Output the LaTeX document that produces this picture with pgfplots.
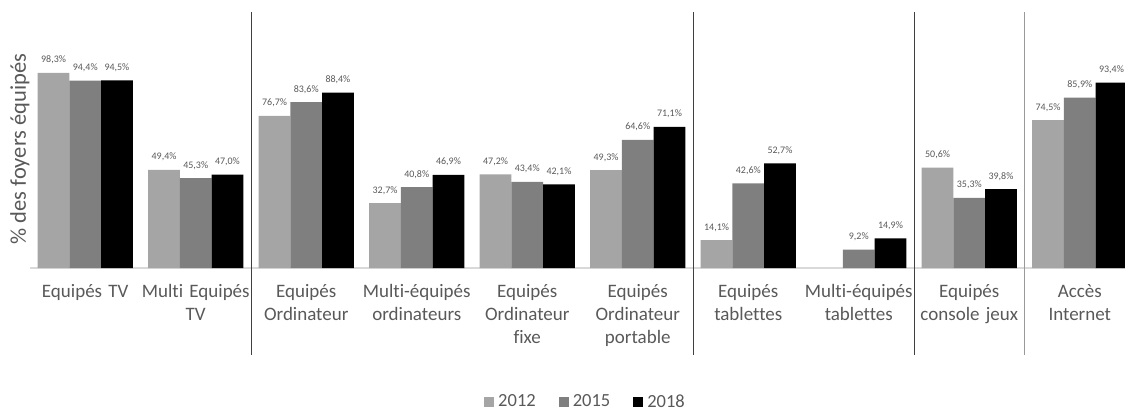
\documentclass[border=0pt]{standalone}
\usepackage{fontspec}
\setmainfont{Carlito}[Ligatures=CommonOff]
\usepackage{pgfplots}
\pgfplotsset{compat=1.18}

\definecolor{c2012}{HTML}{A5A5A5}
\definecolor{c2015}{HTML}{7F7F7F}
\definecolor{c2018}{HTML}{000000}
\definecolor{txt}{HTML}{595959}
\definecolor{baseline}{HTML}{D9D9D9}

\begin{document}
\begin{tikzpicture}[x=1pt,y=1pt]
  % page = 1125 x 410, axis origin at pixel (30,268)
  \useasboundingbox (-30,-142) rectangle (1095,268);
  \clip (-30,-142) rectangle (1095,268);
  \begin{axis}[
      at={(0,0)}, anchor=south west,
      scale only axis,
      width=1105pt, height=256pt,
      ybar=0pt, bar width=31.7pt,
      xmin=-0.5, xmax=9.5,
      ymin=0, ymax=129,
      axis x line*=bottom, axis y line=none,
      x axis line style={draw=baseline, line width=1.6pt},
      xtick={0,...,9}, major tick length=0pt,
      xticklabels={
        {Equipés TV},
        {Multi Equipés\\TV},
        {Equipés\\Ordinateur},
        {Multi-équipés\\ordinateurs},
        {Equipés\\Ordinateur\\fixe},
        {Equipés\\Ordinateur\\portable},
        {Equipés\\tablettes},
        {Multi-équipés\\tablettes},
        {Equipés\\console jeux},
        {Accès\\Internet}},
      xticklabel style={font=\fontsize{19}{23}\selectfont, text=txt,
        align=center, text width=110pt, inner sep=0pt, anchor=north, yshift=-16pt},
      ytick=\empty,
      clip=false,
      /pgf/number format/assume math mode=true,
      nodes near coords={\pgfmathprintnumber[fixed,fixed zerofill,precision=1,use comma]{\pgfplotspointmeta}\%},
      every node near coord/.append style={font=\fontsize{10}{12}\selectfont, text=txt,
        inner sep=0pt, anchor=south, yshift=8.5pt},
      legend columns=3,
      legend style={at={(axis description cs:0.5036,-0.5215)}, anchor=center,
        draw=none, fill=none, font=\fontsize{18.5}{22}\selectfont, text=txt,
        /tikz/every even column/.append style={column sep=19pt},
        nodes={inner sep=4pt}},
      legend image code/.code={\fill[#1] (0pt,-5pt) rectangle (10pt,5pt);},
    ]

    \addplot[fill=c2012, draw=none] coordinates {
      (0,98.3) (1,49.4) (2,76.7) (3,32.7) (4,47.2)
      (5,49.3) (6,14.1) (8,50.6) (9,74.5)
    };
    \addlegendentry{2012}

    \addplot[fill=c2015, draw=none] coordinates {
      (0,94.4) (1,45.3) (2,83.6) (3,40.8) (4,43.4)
      (5,64.6) (6,42.6) (7,9.2) (8,35.3) (9,85.9)
    };
    \addlegendentry{2015}

    \addplot[fill=c2018, draw=none] coordinates {
      (0,94.5) (1,47.0) (2,88.4) (3,46.9) (4,42.1)
      (5,71.1) (6,52.7) (7,14.9) (8,39.8) (9,93.4)
    };
    \addlegendentry{2018}

    % group separators
    \draw[black!75, line width=0.9pt] (axis cs:1.5,129) -- ([yshift=-87pt]axis cs:1.5,0);
    \draw[black!75, line width=0.9pt] (axis cs:5.5,129) -- ([yshift=-87pt]axis cs:5.5,0);
    \draw[black!75, line width=0.9pt] (axis cs:7.5,129) -- ([yshift=-87pt]axis cs:7.5,0);
    \draw[black!40, line width=1.8pt] (axis cs:8.5,129) -- ([yshift=-87pt]axis cs:8.5,0);
  \end{axis}
  \node[rotate=90, font=\fontsize{22.5}{26}\selectfont, text=txt] at (-10,119) {\% des foyers équipés};
\end{tikzpicture}
\end{document}
